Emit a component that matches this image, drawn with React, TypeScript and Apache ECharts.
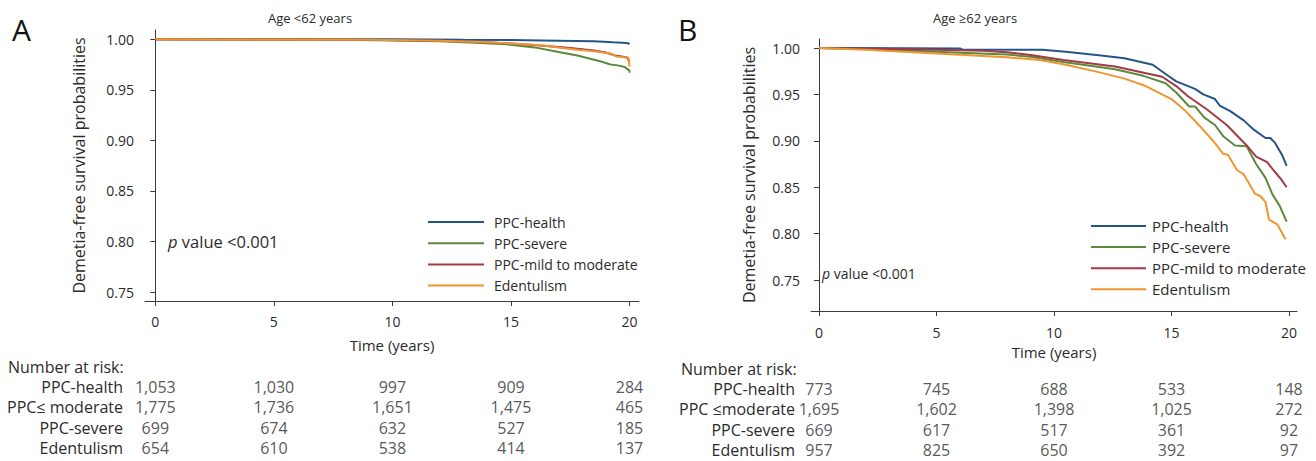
import React, { useEffect, useRef } from "react";
import * as echarts from "echarts";

// ---------- data ----------
const groups = ["PPC-health", "PPC-severe", "PPC-mild to moderate", "Edentulism"];
const groupColors = ["#24558a", "#5b8a3c", "#a23b45", "#f0952f"];
const timeTicks = [0, 5, 10, 15, 20];
const survTicks = [0.75, 0.8, 0.85, 0.9, 0.95, 1.0];

// Panel A: age < 62 years  [time, survival]
const healthA = [[0, 1], [10, 1], [13, 0.9995], [15, 0.9993], [17, 0.9986], [18.5, 0.998], [19.3, 0.997], [19.7, 0.9966], [19.95, 0.996], [20, 0.9952]];
const severeA = [[0, 1], [8, 0.9996], [10, 0.9988], [12, 0.998], [13.5, 0.9966], [14.8, 0.995], [16, 0.992], [16.9, 0.988], [17.8, 0.984], [18.3, 0.981], [18.8, 0.978], [19.2, 0.975], [19.5, 0.9742], [19.8, 0.9725], [20, 0.969], [20, 0.967]];
const mildA = [[0, 1], [9, 0.9996], [12, 0.9986], [14, 0.9972], [15.5, 0.9952], [16.5, 0.9934], [17.5, 0.9913], [18.5, 0.989], [19.0, 0.987], [19.4, 0.984], [19.6, 0.9832], [19.9, 0.982], [20, 0.978]];
const edentA = [[0, 1], [9, 0.9996], [12, 0.9985], [14, 0.997], [16.2, 0.9944], [17, 0.992], [17.9, 0.9895], [18.6, 0.988], [19.2, 0.986], [19.45, 0.983], [19.95, 0.9818], [20, 0.973]];

// Panel B: age >= 62 years
const healthB = [[0, 1], [1, 1], [6, 0.9995], [6.1, 0.9985], [9.5, 0.998], [10.5, 0.996], [12, 0.992], [13, 0.989], [14.2, 0.982], [14.75, 0.972], [15.2, 0.964], [16, 0.956], [16.35, 0.95], [16.85, 0.945], [17.05, 0.938], [17.5, 0.932], [18.07, 0.922], [18.5, 0.912], [19.0, 0.903], [19.2, 0.903], [19.4, 0.898], [19.7, 0.885], [19.9, 0.873]];
const severeB = [[0, 1], [3, 0.998], [6, 0.995], [8, 0.993], [9, 0.9905], [10.4, 0.985], [12.6, 0.977], [13.8, 0.97], [14.75, 0.962], [15.2, 0.952], [15.75, 0.937], [16.0, 0.937], [16.4, 0.925], [16.85, 0.917], [17.2, 0.905], [17.7, 0.895], [18.2, 0.894], [18.6, 0.875], [19.0, 0.86], [19.3, 0.842], [19.6, 0.83], [19.9, 0.813]];
const mildB = [[0, 1], [3, 0.999], [5, 0.998], [7, 0.997], [8, 0.9955], [9, 0.9925], [10.4, 0.987], [12.6, 0.98], [14.6, 0.969], [15.2, 0.959], [15.7, 0.948], [16.5, 0.934], [17.35, 0.917], [18.2, 0.895], [18.6, 0.883], [19.07, 0.877], [19.35, 0.868], [19.65, 0.859], [19.9, 0.85]];
const edentB = [[0, 1], [2, 0.998], [5, 0.994], [8, 0.99], [9.4, 0.987], [10.5, 0.982], [11.9, 0.974], [13.0, 0.967], [13.9, 0.959], [15, 0.945], [15.6, 0.932], [16.2, 0.916], [16.8, 0.899], [17.2, 0.886], [17.4, 0.885], [17.8, 0.868], [18.07, 0.864], [18.3, 0.854], [18.55, 0.843], [18.8, 0.84], [19.0, 0.834], [19.15, 0.815], [19.5, 0.81], [19.85, 0.794]];

// Number at risk
const riskRowsA = ["PPC-health", "PPC\u2264 moderate", "PPC-severe", "Edentulism"];
const riskRowsB = ["PPC-health", "PPC \u2264moderate", "PPC-severe", "Edentulism"];
const riskHealthA = [1053, 1030, 997, 909, 284];
const riskModerateA = [1775, 1736, 1651, 1475, 465];
const riskSevereA = [699, 674, 632, 527, 185];
const riskEdentA = [654, 610, 538, 414, 137];
const riskHealthB = [773, 745, 688, 533, 148];
const riskModerateB = [1695, 1602, 1398, 1025, 272];
const riskSevereB = [669, 617, 517, 361, 92];
const riskEdentB = [957, 825, 650, 392, 97];

const FONT = "Open Sans";
const TXT = "#2b2b2b";
const AX = "#3a3a3a";

export default function App() {
  const ref = useRef<HTMLDivElement>(null);
  useEffect(() => {
    document.body.style.margin = "0";
    const chart = echarts.init(ref.current!, undefined, { renderer: "svg" });

    const panels = [
      { grid: { left: 145, top: 30, width: 494, height: 271 }, xmin: -0.435, xmax: 20.4, ymin: 0.7411, ymax: 1.0092, curves: [healthA, severeA, mildA, edentA], yNameGap: 58, labMargin: 13, nameGap: 36 },
      { grid: { left: 811, top: 39, width: 486, height: 272 }, xmin: -0.34, xmax: 20.34, ymin: 0.7166, ymax: 1.0097, curves: [healthB, severeB, mildB, edentB], yNameGap: 54, labMargin: 14, nameGap: 33 },
    ];
    const tables = [
      { grid: { left: 145, top: 376.8, width: 494, height: 81.2 }, xmin: -0.435, xmax: 20.4, rows: riskRowsA, data: [riskHealthA, riskModerateA, riskSevereA, riskEdentA], margin: 22 },
      { grid: { left: 811, top: 378.8, width: 486, height: 81.2 }, xmin: -0.34, xmax: 20.34, rows: riskRowsB, data: [riskHealthB, riskModerateB, riskSevereB, riskEdentB], margin: 16 },
    ];

    const grids: any[] = [];
    const xAxes: any[] = [];
    const yAxes: any[] = [];
    const series: any[] = [];

    panels.forEach((p, pi) => {
      grids.push(p.grid);
      xAxes.push({
        type: "value", gridIndex: pi, min: p.xmin, max: p.xmax,
        axisLine: { show: true, lineStyle: { color: AX, width: 1 } },
        axisTick: { show: true, length: 5, lineStyle: { color: AX }, customValues: timeTicks },
        axisLabel: { customValues: timeTicks, fontSize: 14, color: TXT, fontFamily: FONT, margin: p.labMargin },
        splitLine: { show: false },
        name: "Time (years)", nameLocation: "middle", nameGap: p.nameGap,
        nameTextStyle: { fontSize: 15, color: TXT, fontFamily: FONT },
      });
      yAxes.push({
        type: "value", gridIndex: pi, min: p.ymin, max: p.ymax,
        axisLine: { show: true, lineStyle: { color: AX, width: 1 } },
        axisTick: { show: true, length: 5, lineStyle: { color: AX }, customValues: survTicks },
        axisLabel: { customValues: survTicks, fontSize: 14, color: TXT, fontFamily: FONT, margin: 11, formatter: (v: number) => v.toFixed(2) },
        splitLine: { show: false },
        name: "Demetia-free survival probabilities", nameLocation: "middle", nameGap: p.yNameGap,
        nameTextStyle: { fontSize: 16, color: TXT, fontFamily: FONT },
      });
      p.curves.forEach((c, ci) => {
        series.push({
          type: "line", name: groups[ci], xAxisIndex: pi, yAxisIndex: pi, data: c,
          symbol: "none", showSymbol: false, silent: true,
          lineStyle: { color: groupColors[ci], width: 2 }, itemStyle: { color: groupColors[ci] },
        });
      });
    });

    tables.forEach((t, ti) => {
      const gi = 2 + ti;
      grids.push(t.grid);
      xAxes.push({ type: "value", gridIndex: gi, min: t.xmin, max: t.xmax, show: false });
      yAxes.push({
        type: "category", gridIndex: gi, data: t.rows, inverse: true,
        axisLine: { show: false }, axisTick: { show: false }, splitLine: { show: false },
        axisLabel: { interval: 0, fontSize: 16, color: TXT, fontFamily: FONT, margin: t.margin },
      });
      const pts: any[] = [];
      t.data.forEach((row, ri) => row.forEach((v, k) => pts.push([timeTicks[k], ri, v])));
      series.push({
        type: "scatter", xAxisIndex: gi, yAxisIndex: gi, data: pts, symbolSize: 1, silent: true,
        itemStyle: { color: "transparent" },
        label: {
          show: true, position: "inside", fontSize: 16, color: TXT, fontFamily: FONT,
          formatter: (q: any) => Number(q.value[2]).toLocaleString("en-US"),
        },
      });
    });

    const graphic: any[] = [
      { type: "text", left: 12, top: 14, style: { text: "A", fontSize: 30, fill: "#111", fontFamily: FONT } },
      { type: "text", left: 678, top: 14, style: { text: "B", fontSize: 30, fill: "#111", fontFamily: FONT } },
      { type: "text", x: 310, y: 18, style: { text: "Age <62 years", fontSize: 13, fill: TXT, fontFamily: FONT, align: "center", verticalAlign: "middle" } },
      { type: "text", x: 975, y: 18, style: { text: "Age \u226562 years", fontSize: 13, fill: TXT, fontFamily: FONT, align: "center", verticalAlign: "middle" } },
      { type: "text", x: 168, y: 241, style: { text: "{i|p} value <0.001", fontSize: 16.5, fill: TXT, fontFamily: FONT, verticalAlign: "middle", rich: { i: { fontStyle: "italic", fontSize: 16.5, fill: TXT, fontFamily: FONT } } } },
      { type: "text", x: 822, y: 273, style: { text: "{i|p} value <0.001", fontSize: 14, fill: TXT, fontFamily: FONT, verticalAlign: "middle", rich: { i: { fontStyle: "italic", fontSize: 14, fill: TXT, fontFamily: FONT } } } },
      { type: "text", x: 8, y: 367, style: { text: "Number at risk:", fontSize: 16, fill: TXT, fontFamily: FONT, verticalAlign: "middle" } },
      { type: "text", x: 681, y: 369, style: { text: "Number at risk:", fontSize: 16, fill: TXT, fontFamily: FONT, verticalAlign: "middle" } },
    ];
    const legends = [
      { x1: 428, x2: 484, tx: 494, y0: 222, dy: 21.2, fs: 14 },
      { x1: 1091, x2: 1146, tx: 1152, y0: 226, dy: 21.1, fs: 15 },
    ];
    legends.forEach((l) => {
      groups.forEach((g, i) => {
        const y = l.y0 + i * l.dy;
        graphic.push({ type: "line", shape: { x1: l.x1, y1: y, x2: l.x2, y2: y }, style: { stroke: groupColors[i], lineWidth: 2 } });
        graphic.push({ type: "text", x: l.tx, y, style: { text: g, fontSize: l.fs, fill: TXT, fontFamily: FONT, verticalAlign: "middle" } });
      });
    });

    chart.setOption({
      animation: false,
      backgroundColor: "#ffffff",
      textStyle: { fontFamily: FONT },
      grid: grids, xAxis: xAxes, yAxis: yAxes, series, graphic,
    });
    return () => chart.dispose();
  }, []);
  return <div ref={ref} style={{ position: "absolute", left: 0, top: 0, width: 1316, height: 461 }} />;
}
